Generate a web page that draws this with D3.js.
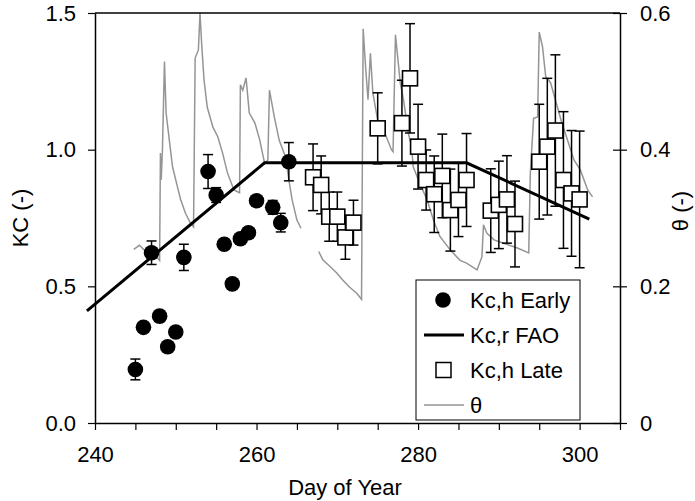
<!DOCTYPE html>
<html><head><meta charset="utf-8">
<script src="https://cdn.jsdelivr.net/npm/d3@7"></script>
<style>body{margin:0;background:#fff} svg{display:block} text{font-family:"Liberation Sans",Arial,sans-serif;fill:#000}</style>
</head><body><svg id="c" width="695" height="501"></svg>
<script>
// ---- data ----
const earlyDay=[245,246,247,248,249,250,251,254,255,256,257,258,259,260,262,263,264];
const earlyKc=[0.196,0.350,0.623,0.391,0.279,0.333,0.606,0.920,0.834,0.654,0.509,0.674,0.696,0.813,0.789,0.733,0.956];
const earlyErr=[0.038,0,0.043,0.02,0,0.015,0.048,0.062,0.027,0,0,0,0.015,0,0.025,0.034,0.07];

const lateDay=[267,268,269,270,271,272,275,278,279,280,281,282,283,284,285,286,289,290,291,292,295,296,297,298,299,300];
const lateKc=[0.899,0.871,0.755,0.755,0.679,0.733,1.078,1.097,1.261,1.011,0.889,0.837,0.904,0.779,0.816,0.889,0.777,0.798,0.818,0.728,0.956,1.011,1.070,0.889,0.840,0.818];
const lateErr=[0.122,0.106,0.09,0.09,0.08,0.082,0.13,0.157,0.2,0.155,0.11,0.14,0.153,0.15,0.134,0.17,0.153,0.16,0.16,0.157,0.21,0.25,0.277,0.25,0.23,0.25];

const faoDay=[239,261,286,301.2];
const faoKc=[0.41,0.952,0.952,0.746];

const thetaDay=[244.8,245.5,246.2,247.0,247.5,248.0,248.1,248.2,248.35,248.6,248.8,249.2,249.6,250.2,250.6,251.2,251.8,252.2,252.3,252.4,252.8,253.0,253.2,253.5,253.9,254.6,255.2,255.8,256.4,257.2,257.9,258.0,258.3,258.7,259.1,259.8,260.4,261.0,261.4,261.6,262.2,262.8,263.6,264.0,264.4,265.0,265.5,
  266.6,
  267.7,268.2,269.1,269.9,270.7,271.5,272.4,273.0,273.2,273.5,273.8,274.1,274.4,275.0,275.9,276.7,276.9,277.2,277.8,278.2,278.8,279.2,279.4,280.2,281.1,281.9,282.7,284.0,285.2,286.0,287.3,287.9,288.1,288.5,289.4,290.6,292.3,293.7,293.9,294.3,294.8,295.0,295.4,295.8,296.4,297.0,297.8,298.5,299.3,300.1,301.0,301.6];
const thetaVal=[0.254,0.260,0.252,0.255,0.245,0.238,0.395,0.356,0.400,0.529,0.454,0.414,0.375,0.346,0.327,0.307,0.293,0.287,0.410,0.534,0.546,0.600,0.556,0.502,0.462,0.433,0.419,0.395,0.366,0.341,0.337,0.495,0.487,0.505,0.454,0.439,0.414,0.380,0.385,0.487,0.448,0.414,0.389,0.356,0.327,0.297,0.285,
  null,
  0.251,0.239,0.229,0.220,0.209,0.199,0.190,0.181,0.577,0.521,0.473,0.541,0.483,0.443,0.424,0.400,0.397,0.568,0.497,0.473,0.424,0.404,0.375,0.351,0.327,0.297,0.273,0.253,0.238,0.234,0.224,0.243,0.290,0.278,0.268,0.263,0.256,0.249,0.366,0.446,0.448,0.572,0.551,0.507,0.498,0.473,0.439,0.414,0.385,0.370,0.341,0.331];

const xTickVals=[240,245,250,255,260,265,270,275,280,285,290,295,300,305];
const yTickVals=[0,0.5,1.0,1.5];
const y2TickVals=[0,0.2,0.4,0.6];

// ---- layout ----
const L=95,R=620,T=13,B=423;
const svg=d3.select("#c");
const x=d3.scaleLinear().domain([240,305]).range([L,R]);
const y=d3.scaleLinear().domain([0,1.5]).range([B,T]);
const y2=d3.scaleLinear().domain([0,0.6]).range([B,T]);
const FS=22;

// theta line
const thetaPts=thetaDay.map((d,i)=>({d,v:thetaVal[i]}));
svg.append("path").datum(thetaPts)
  .attr("d",d3.line().defined(p=>p.v!==null).x(p=>x(p.d)).y(p=>y2(p.v)))
  .attr("fill","none").attr("stroke","#959595").attr("stroke-width",1.5);

// FAO line
svg.append("path").datum(faoDay.map((d,i)=>({d,v:faoKc[i]})))
  .attr("d",d3.line().x(p=>x(p.d)).y(p=>y(p.v)))
  .attr("fill","none").attr("stroke","#000").attr("stroke-width",3);

// error bars
function errBars(days,vals,errs){
  const g=svg.append("g").attr("stroke","#000").attr("stroke-width",1.5);
  days.forEach((d,i)=>{
    if(!errs[i]) return;
    const cx=x(d), y0=y(vals[i]-errs[i]), y1=y(vals[i]+errs[i]);
    g.append("line").attr("x1",cx).attr("x2",cx).attr("y1",y0).attr("y2",y1);
    g.append("line").attr("x1",cx-5).attr("x2",cx+5).attr("y1",y0).attr("y2",y0);
    g.append("line").attr("x1",cx-5).attr("x2",cx+5).attr("y1",y1).attr("y2",y1);
  });
}
errBars(earlyDay,earlyKc,earlyErr);
errBars(lateDay,lateKc,lateErr);

// markers
svg.append("g").selectAll("circle").data(earlyDay).join("circle")
  .attr("cx",(d)=>x(d)).attr("cy",(d,i)=>y(earlyKc[i])).attr("r",7.8).attr("fill","#000");
svg.append("g").selectAll("rect").data(lateDay).join("rect")
  .attr("x",d=>x(d)-7.5).attr("y",(d,i)=>y(lateKc[i])-7.5).attr("width",15).attr("height",15)
  .attr("fill","#fff").attr("stroke","#000").attr("stroke-width",1.6);

// axes
const ax=svg.append("g").attr("transform",`translate(0,${B})`)
  .call(d3.axisBottom(x).tickValues(xTickVals).tickSize(7).tickSizeOuter(0).tickPadding(16)
     .tickFormat(d=>d%20===0?d:""));
const ay=svg.append("g").attr("transform",`translate(${L},0)`)
  .call(d3.axisLeft(y).tickValues(yTickVals).tickSize(7).tickSizeOuter(0).tickPadding(12).tickFormat(d3.format(".1f")));
const ay2=svg.append("g").attr("transform",`translate(${R},0)`)
  .call(d3.axisRight(y2).tickValues(y2TickVals).tickSize(7).tickSizeOuter(0).tickPadding(13)
     .tickFormat(d=>d===0?"0":d3.format(".1f")(d)));
ay2.selectAll(".tick line").attr("x1",-7).attr("x2",7);
[ax,ay,ay2].forEach(g=>{
  g.selectAll("path.domain").attr("stroke","#000").attr("stroke-width",1.5);
  g.selectAll(".tick line").attr("stroke","#000").attr("stroke-width",1.2);
  g.selectAll("text").attr("font-size",FS).attr("font-family","'Liberation Sans',Arial,sans-serif");
});
svg.append("line").attr("x1",L).attr("x2",R).attr("y1",T).attr("y2",T).attr("stroke","#000").attr("stroke-width",1.5);

// axis titles
svg.append("text").attr("x",345).attr("y",495).attr("text-anchor","middle").attr("font-size",FS).text("Day of Year");
svg.append("text").attr("transform","translate(28,218) rotate(-90)").attr("text-anchor","middle").attr("font-size",FS).text("KC (-)");
svg.append("text").attr("transform","translate(688,211) rotate(-90)").attr("text-anchor","middle").attr("font-size",FS).text("θ (-)");

// legend
const lg=svg.append("g");
lg.append("rect").attr("x",416).attr("y",280).attr("width",164).attr("height",140).attr("fill","#fff").attr("stroke","#000").attr("stroke-width",1);
const items=["Kc,h Early","Kc,r FAO","Kc,h Late","θ"];
const iy=[300,335,370,405];
lg.append("circle").attr("cx",443).attr("cy",iy[0]).attr("r",7.8).attr("fill","#000");
lg.append("line").attr("x1",424).attr("x2",464).attr("y1",iy[1]).attr("y2",iy[1]).attr("stroke","#000").attr("stroke-width",3);
lg.append("rect").attr("x",436).attr("y",iy[2]-7.5).attr("width",15).attr("height",15).attr("fill","#fff").attr("stroke","#000").attr("stroke-width",1.5);
lg.append("line").attr("x1",424).attr("x2",464).attr("y1",iy[3]).attr("y2",iy[3]).attr("stroke","#959595").attr("stroke-width",1.5);
items.forEach((t,i)=>lg.append("text").attr("x",470).attr("y",iy[i]+8).attr("font-size",FS).text(t));
</script></body></html>
